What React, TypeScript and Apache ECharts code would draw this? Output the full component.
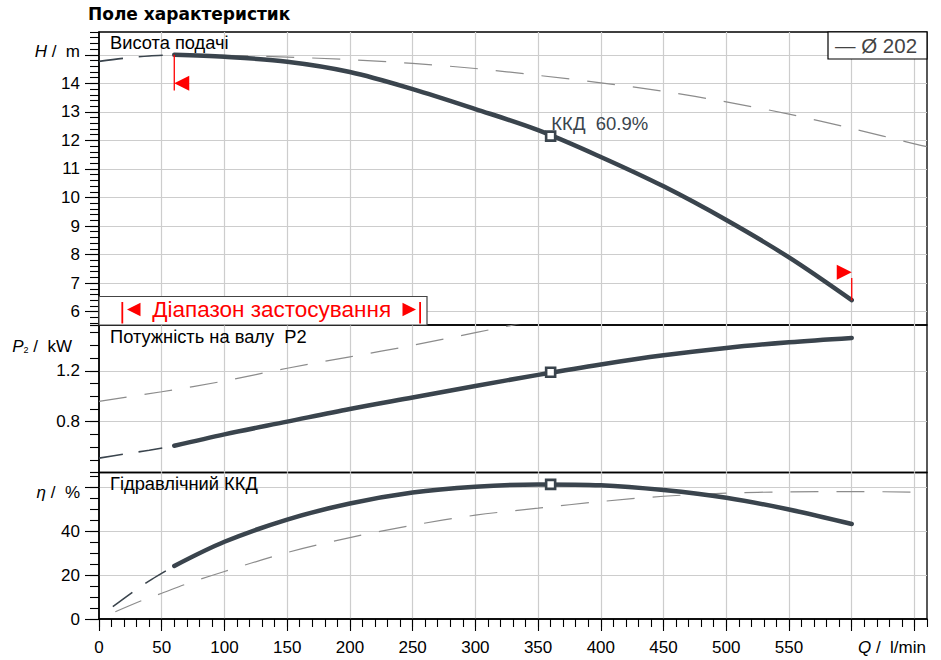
import React, { useEffect, useRef } from 'react';
import * as echarts from 'echarts';

const FONT = '"Liberation Sans", Arial, Helvetica, sans-serif';
const TITLE_FONT = '"DejaVu Sans", Verdana, sans-serif';
const MAIN = '#3a444d';
const OTHER = '#8c8c8c';
const GRIDC = '#cdcdcd';
const RED = '#ff0000';

// ---- data ----
const qMain = [60, 100, 150, 200, 250, 300, 350, 400, 450, 500, 550, 600];
const headMain = [15.0, 14.93, 14.76, 14.4, 13.8, 13.1, 12.36, 11.42, 10.39, 9.21, 7.9, 6.4];
const powerMain = [0.61, 0.7, 0.8, 0.9, 0.99, 1.08, 1.168, 1.25, 1.322, 1.38, 1.424, 1.458];
const effMain = [24.1, 35.1, 45.2, 52.5, 57.5, 60.1, 61.2, 60.8, 58.6, 55.1, 49.8, 43.2];

const qHeadExt = [0, 20, 40, 60];
const headExt = [14.77, 14.88, 14.96, 15.0];
const qPowerExt = [0, 20, 40, 60];
const powerExt = [0.513, 0.545, 0.575, 0.61];
const qEffExt = [11, 30, 42, 60];
const effExt = [5.6, 13.5, 18, 24.1];

const qHeadOther = [60, 100, 150, 200, 250, 300, 350, 400, 450, 500, 550, 600, 650, 660];
const headOther = [15.0, 14.98, 14.92, 14.83, 14.7, 14.52, 14.28, 14.02, 13.72, 13.35, 12.92, 12.42, 11.88, 11.78];
const qPowerOther = [0, 50, 100, 150, 200, 250, 300, 340];
const powerOther = [0.96, 1.035, 1.12, 1.22, 1.31, 1.4, 1.5, 1.58];
const qEffOther = [13, 35, 50, 70, 100, 150, 200, 250, 300, 350, 400, 450, 500, 550, 600, 650, 660];
const effOther = [3.3, 8.6, 11.7, 16, 21.6, 30.2, 37, 42.6, 47.2, 50.4, 53.4, 55.8, 57.2, 57.8, 57.9, 57.7, 57.5];

const dutyQ = 360;
const dutyHead = 12.15;
const dutyPower = 1.188;
const dutyEff = 61.2;
const dutyLabel = 'ККД  60.9%';

const limitQ = [60, 600];
const limitLineStart = [15.0, 13.75];
const limitLineEnd = [6.4, 7.18];
const limitArrowH = [14.0, 7.38];

const zip = (xs: number[], ys: number[]) => xs.map((x, i) => [x, ys[i]]);

const txt = (x: number, y: number, text: string, extra: any = {}) => ({
  type: 'text',
  x,
  y,
  z: 60,
  style: {
    text,
    fontFamily: FONT,
    fontSize: 17,
    fill: '#000',
    align: 'left',
    verticalAlign: 'middle',
    ...extra,
  },
});

function buildOption(): any {
  const grids = [
    { left: 99, right: 14, top: 32, height: 293 },
    { left: 99, right: 14, top: 325, height: 147.5 },
    { left: 99, right: 14, top: 472.5, height: 146.5 },
  ].map((g) => ({
    ...g,
    show: true,
    borderColor: '#000',
    borderWidth: 1.3,
    backgroundColor: 'transparent',
    containLabel: false,
    outerBoundsMode: 'none',
  }));

  const split = { show: true, showMinLine: false, showMaxLine: false, lineStyle: { color: GRIDC, width: 1.2 } };
  const axLine = { show: true, onZero: false, lineStyle: { color: '#000', width: 1.5 } };
  const tick = (len: number) => ({ show: true, length: len, lineStyle: { color: '#000', width: 1.1 } });
  const lab = { fontSize: 17, color: '#000', fontFamily: FONT, margin: 19 };

  const xHidden = (gi: number) => ({
    type: 'value', gridIndex: gi, min: 0, max: 660, interval: 50, position: 'bottom',
    axisLine: { show: false, onZero: false }, axisTick: { show: false }, axisLabel: { show: false },
    splitLine: split,
  });

  const xAxis = [
    xHidden(0),
    xHidden(1),
    {
      type: 'value', gridIndex: 2, min: 0, max: 660, interval: 50, position: 'bottom',
      axisLine: axLine, axisTick: tick(12),
      axisLabel: {
        ...lab, margin: 28.5, verticalAlign: 'middle', showMaxLabel: false,
        formatter: (v: number) => (v >= 600 ? '' : String(v)),
      },
      splitLine: split,
    },
    {
      type: 'value', gridIndex: 2, min: 0, max: 660, interval: 10, position: 'bottom',
      axisLine: { show: false, onZero: false }, axisTick: tick(8), axisLabel: { show: false },
      splitLine: { show: false },
    },
  ];

  const minorY = (gi: number, min: number, max: number, extra: any) => ({
    type: 'value', gridIndex: gi, position: 'left', min, max, ...extra,
    axisLine: { show: false, onZero: false }, axisTick: tick(9), axisLabel: { show: false },
    splitLine: { show: false },
  });

  const yAxis = [
    {
      type: 'value', gridIndex: 0, position: 'left', min: 5.53, max: 15.8, splitNumber: 10,
      axisLine: axLine, axisTick: tick(14),
      axisLabel: {
        ...lab, showMinLabel: false, showMaxLabel: false,
        formatter: (v: number) => (Math.abs(v - 15) < 1e-6 ? '' : String(Math.round(v))),
      },
      splitLine: split,
    },
    minorY(0, 5.53, 15.8, { splitNumber: 50 }),
    {
      type: 'value', gridIndex: 1, position: 'left', min: 0.4, max: 1.56, interval: 0.4,
      axisLine: axLine, axisTick: tick(14),
      axisLabel: {
        ...lab, showMinLabel: false, showMaxLabel: false,
        formatter: (v: number) => v.toFixed(1),
      },
      splitLine: split,
    },
    minorY(1, 0.4, 1.56, { interval: 0.1 }),
    {
      type: 'value', gridIndex: 2, position: 'left', min: 0, max: 66.6, interval: 20,
      axisLine: axLine, axisTick: tick(14),
      axisLabel: {
        ...lab, showMaxLabel: false,
        formatter: (v: number) => (v > 50 ? '' : String(v)),
      },
      splitLine: split,
    },
    minorY(2, 0, 66.6, { interval: 5 }),
  ];

  const curve = { smooth: 0.33, showSymbol: false, silent: true };
  const other = (xi: number, yi: number, data: number[][]) => ({
    type: 'line', xAxisIndex: xi, yAxisIndex: yi, data, ...curve,
    lineStyle: { color: OTHER, width: 1.2, type: [28, 18] }, z: 2,
  });
  const ext = (xi: number, yi: number, data: number[][]) => ({
    type: 'line', xAxisIndex: xi, yAxisIndex: yi, data, ...curve,
    lineStyle: { color: MAIN, width: 1.6, type: [24, 16] }, z: 3,
  });
  const main = (xi: number, yi: number, data: number[][]) => ({
    type: 'line', xAxisIndex: xi, yAxisIndex: yi, data, ...curve,
    lineStyle: { color: MAIN, width: 4.5, cap: 'round' }, z: 4,
  });
  const duty = (xi: number, yi: number, y: number, label: any = { show: false }) => ({
    type: 'scatter', xAxisIndex: xi, yAxisIndex: yi, data: [[dutyQ, y]], symbol: 'rect', symbolSize: 9,
    itemStyle: { color: '#fff', borderColor: MAIN, borderWidth: 2.6, opacity: 1 }, z: 6, silent: true, label,
  });

  const series: any[] = [
    other(0, 0, zip(qHeadOther, headOther)),
    ext(0, 0, zip(qHeadExt, headExt)),
    main(0, 0, zip(qMain, headMain)),
    duty(0, 0, dutyHead, {
      show: true, formatter: dutyLabel, position: [6.5, -6.5], align: 'left', verticalAlign: 'middle',
      fontSize: 18.5, color: '#3a444d', fontFamily: FONT,
    }),
    {
      type: 'line', xAxisIndex: 0, yAxisIndex: 0, showSymbol: false, silent: true, z: 7,
      data: limitLineStart.map((h) => [limitQ[0], h]), lineStyle: { color: RED, width: 1.3 },
    },
    {
      type: 'line', xAxisIndex: 0, yAxisIndex: 0, showSymbol: false, silent: true, z: 7,
      data: limitLineEnd.map((h) => [limitQ[1], h]), lineStyle: { color: RED, width: 1.3 },
    },
    {
      type: 'scatter', xAxisIndex: 0, yAxisIndex: 0, silent: true, z: 7,
      data: [[limitQ[0], limitArrowH[0]]], symbol: 'triangle', symbolSize: [15, 15], symbolRotate: 90,
      symbolOffset: [7.5, 0], itemStyle: { color: RED, opacity: 1 },
    },
    {
      type: 'scatter', xAxisIndex: 0, yAxisIndex: 0, silent: true, z: 7,
      data: [[limitQ[1], limitArrowH[1]]], symbol: 'triangle', symbolSize: [15, 15], symbolRotate: -90,
      symbolOffset: [-7.5, 0], itemStyle: { color: RED, opacity: 1 },
    },
    other(1, 2, zip(qPowerOther, powerOther)),
    ext(1, 2, zip(qPowerExt, powerExt)),
    main(1, 2, zip(qMain, powerMain)),
    duty(1, 2, dutyPower),
    other(2, 4, zip(qEffOther, effOther)),
    ext(2, 4, zip(qEffExt, effExt)),
    main(2, 4, zip(qMain, effMain)),
    duty(2, 4, dutyEff),
  ];

  const italic = { fontStyle: 'italic', fontFamily: FONT, fontSize: 17, fill: '#000' };
  const normal = { fontFamily: FONT, fontSize: 17, fill: '#000' };

  const graphic: any[] = [
    txt(88, 13.5, 'Поле характеристик', { fontSize: 17, fontWeight: 'bold', fontFamily: TITLE_FONT }),
    txt(110, 42.8, 'Висота подачі', { fontSize: 18.3 }),
    txt(110, 336.7, 'Потужність на валу  P2', { fontSize: 18.3 }),
    txt(110, 483.5, 'Гідравлічний ККД', { fontSize: 18.3 }),
    txt(80, 51.5, '{i|H}{n| /  m}', { align: 'right', rich: { i: italic, n: normal } }),
    txt(72, 346, '{i|P}{s|2}{n| /  kW}', {
      align: 'right',
      rich: { i: italic, s: { fontFamily: FONT, fontSize: 9, fill: '#000', verticalAlign: 'bottom', padding: [6, 0, 0, 0] }, n: normal },
    }),
    txt(80, 492.8, '{i|η}{n| /  %}', { align: 'right', rich: { i: italic, n: normal } }),
    txt(926, 647, '{i|Q}{n| /  l/min}', { align: 'right', rich: { i: italic, n: normal } }),
    {
      type: 'rect', z: 60, shape: { x: 828, y: 32, width: 99, height: 27 },
      style: { fill: '#fff', stroke: '#000', lineWidth: 1.2 },
    },
    txt(835, 45.5, '— Ø 202', { fontSize: 20.5, fill: '#444' }),
    {
      type: 'rect', z: 60, shape: { x: 99, y: 296.5, width: 328, height: 28.5 },
      style: { fill: '#fff', stroke: '#444', lineWidth: 1.2 },
    },
    { type: 'rect', z: 61, shape: { x: 121.4, y: 302, width: 1.8, height: 21.5 }, style: { fill: RED } },
    { type: 'rect', z: 61, shape: { x: 419.2, y: 302, width: 1.8, height: 21.5 }, style: { fill: RED } },
    {
      type: 'polygon', z: 61, shape: { points: [[127, 309.5], [140.5, 302.8], [140.5, 316.2]] },
      style: { fill: RED },
    },
    {
      type: 'polygon', z: 61, shape: { points: [[416, 309.5], [402.5, 302.8], [402.5, 316.2]] },
      style: { fill: RED },
    },
    txt(271.7, 309, 'Діапазон застосування', { fontSize: 22.5, fill: RED, align: 'center' }),
  ];

  return {
    animation: false,
    backgroundColor: '#fff',
    textStyle: { fontFamily: FONT },
    grid: grids,
    xAxis,
    yAxis,
    series,
    graphic,
  };
}

export default function App() {
  const ref = useRef<HTMLDivElement>(null);
  useEffect(() => {
    document.body.style.margin = '0';
    if (!ref.current) return;
    const chart = echarts.init(ref.current, undefined, { renderer: 'svg' });
    chart.setOption(buildOption());
    return () => chart.dispose();
  }, []);
  return <div ref={ref} style={{ width: 941, height: 660 }} />;
}
